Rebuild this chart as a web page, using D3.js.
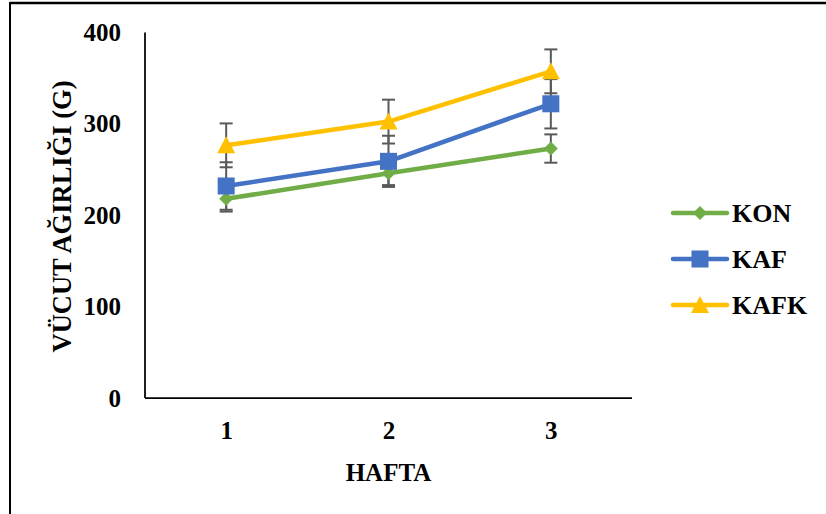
<!DOCTYPE html>
<html>
<head>
<meta charset="utf-8">
<script src="https://cdn.jsdelivr.net/npm/d3@7"></script>
<style>
  html, body { margin: 0; padding: 0; background: #fff; }
  svg { display: block; }
  text { font-family: "Liberation Serif", "Times New Roman", serif; font-weight: bold; fill: #000; }
</style>
</head>
<body>
<svg id="chart" width="826" height="514"></svg>
<script>
const weeks = ["1", "2", "3"];
const seriesNames = ["KON", "KAF", "KAFK"];
const konValues = [218, 246, 273];
const konErrors = [14, 13, 15.5];
const kafValues = [232, 259, 322];
const kafErrors = [26, 28, 27];
const kafkValues = [276.5, 302.5, 357.5];
const kafkErrors = [24, 24, 24];
const yTicks = [0, 100, 200, 300, 400];
const colors = ["#70AD47", "#4472C4", "#FFC000"];
const symbols = ["diamond", "square", "triangle"];

const series = [
  { name: seriesNames[0], values: konValues, errors: konErrors, color: colors[0], symbol: symbols[0] },
  { name: seriesNames[1], values: kafValues, errors: kafErrors, color: colors[1], symbol: symbols[1] },
  { name: seriesNames[2], values: kafkValues, errors: kafkErrors, color: colors[2], symbol: symbols[2] }
];

const svg = d3.select("#chart");

// outer frame (top & left edges visible)
svg.append("line").attr("x1", 10).attr("x2", 826).attr("y1", 3).attr("y2", 3)
  .attr("stroke", "#000").attr("stroke-width", 2.5);
svg.append("line").attr("x1", 10).attr("x2", 10).attr("y1", 2).attr("y2", 514)
  .attr("stroke", "#000").attr("stroke-width", 2);

const pLeft = 145, pRight = 632, pTop = 32.5, pBottom = 398;

const x = d3.scalePoint().domain(weeks).range([pLeft, pRight]).padding(0.5);
const y = d3.scaleLinear().domain([0, 400]).range([pBottom, pTop]);

// y axis labels
const yAxis = svg.append("g").attr("transform", `translate(${pLeft},0)`)
  .call(d3.axisLeft(y).tickValues(yTicks).tickSize(0).tickPadding(24).tickFormat(d3.format("d")));
yAxis.select(".domain").remove();
yAxis.selectAll("text").style("font-size", "25px").style("font-family", "Liberation Serif").style("font-weight", "bold").attr("fill", "#000");

// x axis labels
const xAxis = svg.append("g").attr("transform", `translate(0,${pBottom})`)
  .call(d3.axisBottom(x).tickSize(0).tickPadding(23));
xAxis.select(".domain").remove();
xAxis.selectAll("text").style("font-size", "25px").style("font-family", "Liberation Serif").style("font-weight", "bold").attr("fill", "#000");

// axis lines
svg.append("line").attr("x1", pLeft).attr("x2", pLeft).attr("y1", pTop).attr("y2", pBottom)
  .attr("stroke", "#000").attr("stroke-width", 1.75);
svg.append("line").attr("x1", pLeft).attr("x2", pRight).attr("y1", pBottom).attr("y2", pBottom)
  .attr("stroke", "#000").attr("stroke-width", 1.75);

// axis titles
svg.append("text").attr("transform", "translate(71,216.5) rotate(-90)")
  .attr("text-anchor", "middle").style("font-size", "26.5px").text("VÜCUT AĞIRLIĞI (G)");
svg.append("text").attr("x", (pLeft + pRight) / 2).attr("y", 481)
  .attr("text-anchor", "middle").style("font-size", "25px").text("HAFTA");

function symbolPath(kind) {
  if (kind === "diamond") return d3.symbol(d3.symbolDiamond2, 125)();
  if (kind === "square") return d3.symbol(d3.symbolSquare, 290)();
  return "M0,-9L9,8L-9,8Z";
}

// error bars
const eb = svg.append("g").attr("stroke", "#595959").attr("stroke-width", 2);
series.forEach(s => {
  weeks.forEach((w, i) => {
    const cx = x(w);
    const y1 = y(s.values[i] + s.errors[i]);
    const y2 = y(s.values[i] - s.errors[i]);
    eb.append("line").attr("x1", cx).attr("x2", cx).attr("y1", y1).attr("y2", y2);
    eb.append("line").attr("x1", cx - 6.5).attr("x2", cx + 6.5).attr("y1", y1).attr("y2", y1);
    eb.append("line").attr("x1", cx - 6.5).attr("x2", cx + 6.5).attr("y1", y2).attr("y2", y2);
  });
});

// series lines & markers
const line = d3.line().x((d, i) => x(weeks[i])).y(d => y(d));
series.forEach(s => {
  svg.append("path").datum(s.values).attr("d", line)
    .attr("fill", "none").attr("stroke", s.color).attr("stroke-width", 4.5)
    .attr("stroke-linejoin", "round").attr("stroke-linecap", "round");
  svg.append("g").selectAll("path").data(s.values).join("path")
    .attr("d", symbolPath(s.symbol))
    .attr("transform", (d, i) => `translate(${x(weeks[i])},${y(d)})`)
    .attr("fill", s.color);
});

// legend
const legendYs = [213, 259, 305];
series.forEach((s, i) => {
  const g = svg.append("g").attr("transform", `translate(0,${legendYs[i]})`);
  g.append("line").attr("x1", 673).attr("x2", 727).attr("y1", 0).attr("y2", 0)
    .attr("stroke", s.color).attr("stroke-width", 4.5).attr("stroke-linecap", "round");
  g.append("path").attr("d", symbolPath(s.symbol)).attr("transform", "translate(700,0)").attr("fill", s.color);
  g.append("text").attr("x", 732).attr("y", 0).attr("dy", "0.35em").style("font-size", "26px").text(s.name);
});
</script>
</body>
</html>
